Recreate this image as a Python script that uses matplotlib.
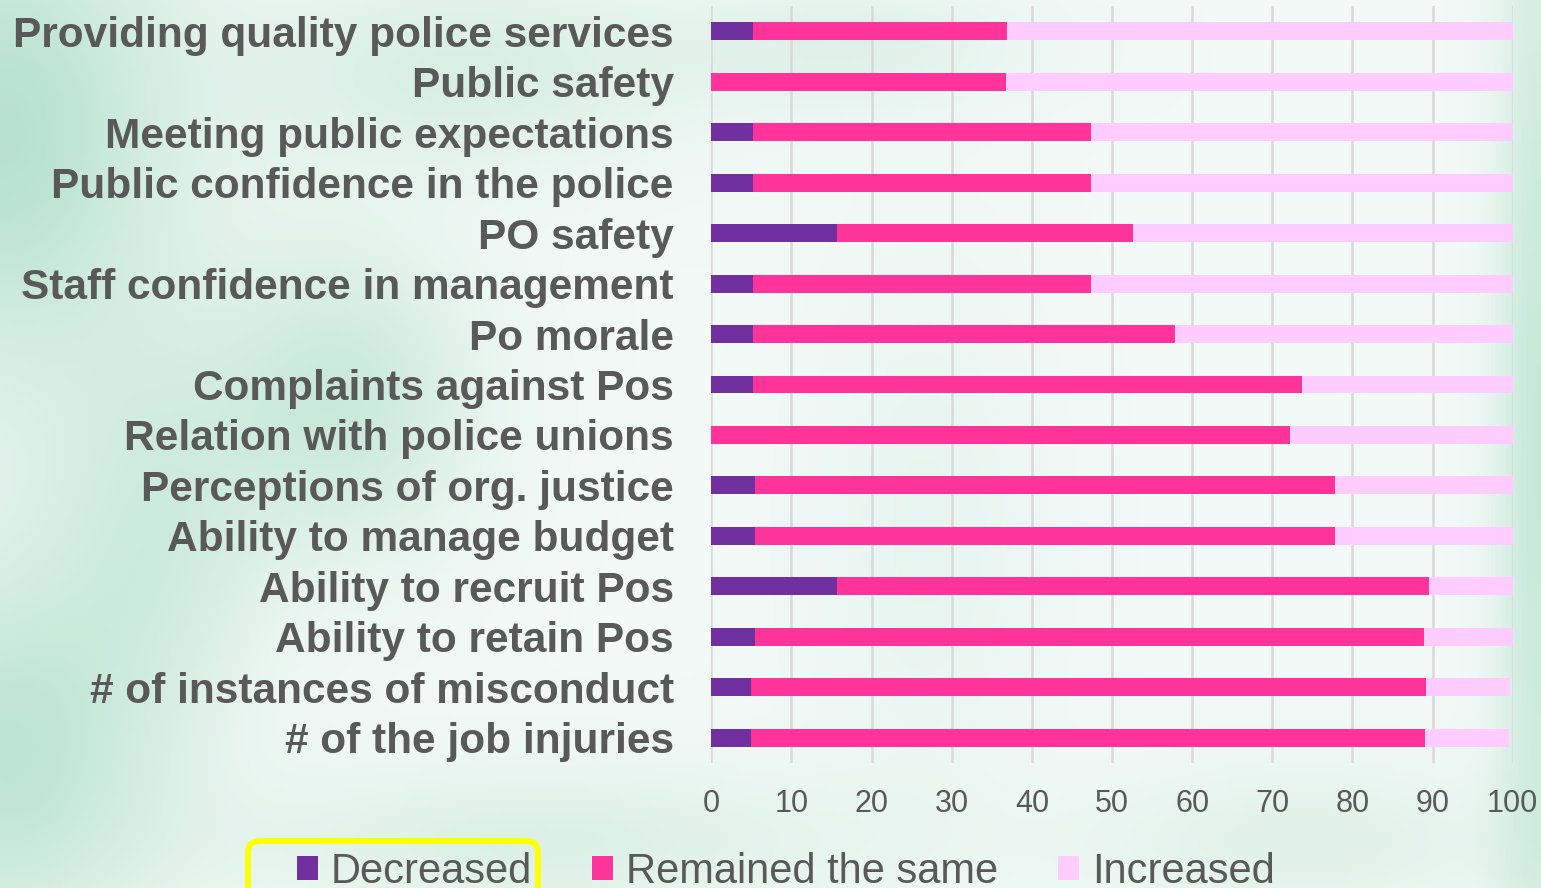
import numpy as np
import matplotlib.pyplot as plt
from matplotlib.patches import FancyBboxPatch

plt.rcParams['font.family'] = ['Liberation Sans', 'DejaVu Sans']

# -----------------------------
# data (percent of respondents)
# -----------------------------
categories = [
    "Providing quality police services",
    "Public safety",
    "Meeting public expectations",
    "Public confidence in the police",
    "PO safety",
    "Staff confidence in management",
    "Po morale",
    "Complaints against Pos",
    "Relation with police unions",
    "Perceptions of org. justice",
    "Ability to manage budget",
    "Ability to recruit Pos",
    "Ability to retain Pos",
    "# of instances of misconduct",
    "# of the job injuries",
]
decreased = [5.2, 0, 5.2, 5.2, 15.7, 5.2, 5.2, 5.2, 0, 5.5, 5.5, 15.7, 5.5, 5.0, 5.0]
remained = [31.7, 36.8, 42.2, 42.2, 36.9, 42.2, 52.7, 68.5, 72.2, 72.3, 72.3, 73.8, 83.4, 84.2, 84.0]
increased = [63.1, 63.2, 52.6, 52.6, 47.4, 52.6, 42.1, 26.3, 27.8, 22.2, 22.2, 10.5, 11.1, 10.5, 10.5]
series_names = ["Decreased", "Remained the same", "Increased"]
colors = ["#7030a0", "#ff3399", "#ffccff"]
xticks = list(range(0, 101, 10))

W, H = 1541, 888
fig = plt.figure(figsize=(W / 100, H / 100), dpi=100)

# -----------------------------
# soft mint background
# -----------------------------
bg = fig.add_axes([0, 0, 1, 1], zorder=-10)
gx, gy = np.meshgrid(np.linspace(0, 1, 400), np.linspace(0, 1, 240))
w = np.zeros_like(gx)
# (cx, cy, sx, sy, amp), y measured from top
blobs = [(0.0, 0.15, 0.08, 0.2, 0.8), (0.0, 0.85, 0.07, 0.15, 0.7),
         (0.22, 0.45, 0.06, 0.12, 0.55), (0.1, 0.6, 0.05, 0.15, 0.4),
         (0.3, 0.08, 0.1, 0.08, 0.35), (1.0, 0.5, 0.02, 0.5, 0.6),
         (0.55, 0.05, 0.08, 0.05, 0.25), (0.6, 0.6, 0.05, 0.2, 0.15),
         (0.35, 0.95, 0.15, 0.06, 0.3), (0.85, 0.95, 0.1, 0.06, 0.25)]
for cx, cy, sx, sy, a in blobs:
    w += a * np.exp(-((gx - cx) ** 2 / (2 * sx ** 2) + (gy - cy) ** 2 / (2 * sy ** 2)))
w = np.clip(0.12 + w, 0, 1)
mint = np.array([0.70, 0.88, 0.80])
white = np.array([0.985, 0.99, 0.99])
img = white + (mint - white) * w[..., None]
bg.imshow(img, extent=[0, 1, 0, 1], aspect='auto', origin='upper')
bg.axis('off')

# -----------------------------
# stacked bars
# -----------------------------
ax = fig.add_axes([711.3 / W, 125 / H, 801.4 / W, 757 / H])
ax.patch.set_alpha(0)
y = np.arange(len(categories))
left = np.zeros(len(categories))
for vals, name, c in zip([decreased, remained, increased], series_names, colors):
    ax.barh(y, vals, left=left, height=0.356, color=c, label=name, zorder=3)
    left = left + np.array(vals)

ax.set_xlim(0, 100)
ax.set_ylim(len(categories) - 0.5, -0.5)
ax.set_xticks(xticks)
ax.set_yticks(y)
ax.set_yticklabels(categories, fontsize=30.5, fontweight='bold', color='#595959')
ax.tick_params(axis='x', length=0, pad=19, labelsize=22, labelcolor='#595959')
ax.tick_params(axis='y', length=0, pad=27)
ax.grid(axis='x', color='#d9d9d9', linewidth=1.8)
ax.set_axisbelow(True)
for s in ax.spines.values():
    s.set_visible(False)

# -----------------------------
# legend + highlight box
# -----------------------------
fig.legend(loc='center left', bbox_to_anchor=(297 / W, 16 / H), ncol=3, frameon=False,
           fontsize=30, handlelength=0.5, handleheight=0.5, handletextpad=0.31,
           columnspacing=1.44, borderpad=0, borderaxespad=0, labelcolor='#595959')

box = FancyBboxPatch((2.48, -0.3), 2.90, 0.77, boxstyle="round,pad=0,rounding_size=0.12",
                     transform=fig.dpi_scale_trans, facecolor='none', edgecolor='#ffff00',
                     linewidth=4.2, zorder=20)
fig.patches.append(box)

fig.savefig("out.png", dpi=100)
